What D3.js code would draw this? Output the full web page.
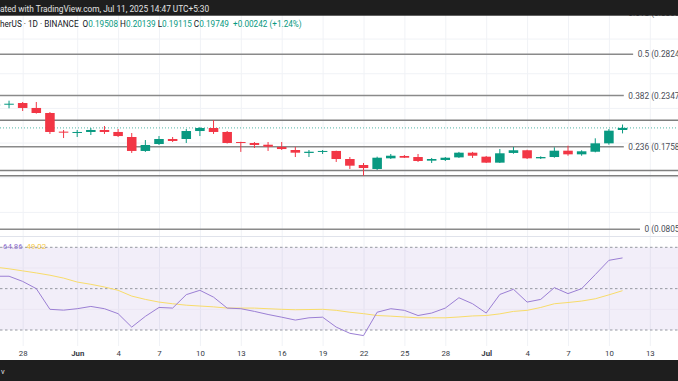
<!DOCTYPE html>
<html>
<head>
<meta charset="utf-8">
<script src="https://cdn.jsdelivr.net/npm/d3@7"></script>
<style>
  body { margin: 0; background: #fff; }
  svg { display: block; font-family: Roboto, "Liberation Sans", sans-serif; }
</style>
</head>
<body>
<div id="chart"></div>
<script>
const dates = [
  '2025-05-26','2025-05-27','2025-05-28','2025-05-29','2025-05-30','2025-05-31',
  '2025-06-01','2025-06-02','2025-06-03','2025-06-04','2025-06-05','2025-06-06','2025-06-07','2025-06-08','2025-06-09','2025-06-10',
  '2025-06-11','2025-06-12','2025-06-13','2025-06-14','2025-06-15','2025-06-16','2025-06-17','2025-06-18','2025-06-19','2025-06-20',
  '2025-06-21','2025-06-22','2025-06-23','2025-06-24','2025-06-25','2025-06-26','2025-06-27','2025-06-28','2025-06-29','2025-06-30',
  '2025-07-01','2025-07-02','2025-07-03','2025-07-04','2025-07-05','2025-07-06','2025-07-07','2025-07-08','2025-07-09','2025-07-10','2025-07-11'
];
const open  = [0.2240,0.2248,0.2262,0.2205,0.2147,0.1932, 0.1920,0.1928,0.1951,0.1928,0.1870,0.1709,0.1789,0.1847,0.1847,0.1939,
  0.1974,0.1928,0.1812,0.1801,0.1781,0.1755,0.1720,0.1686,0.1698,0.1709, 0.1616,0.1547,0.1501,0.1624,0.1651,0.1639,0.1597,0.1605,0.1635,0.1689,
  0.1643,0.1574,0.1686,0.1717,0.1624,0.1639,0.1712,0.1670,0.1700,0.1797,0.19508];
const high  = [0.2262,0.2289,0.2274,0.2274,0.2158,0.1951, 0.1951,0.1974,0.1997,0.1962,0.1916,0.1835,0.1881,0.1870,0.1962,0.1985,
  0.2066,0.1939,0.1815,0.1812,0.1812,0.1812,0.1755,0.1720,0.1720,0.1712, 0.1639,0.1570,0.1643,0.1674,0.1662,0.1674,0.1628,0.1639,0.1698,0.1698,
  0.1651,0.1731,0.1755,0.1723,0.1647,0.1751,0.1770,0.1717,0.1855,0.1962,0.20139];
const low   = [0.2228,0.2201,0.2170,0.2140,0.1905,0.1858, 0.1870,0.1893,0.1905,0.1870,0.1686,0.1698,0.1778,0.1812,0.1801,0.1881,
  0.1905,0.1795,0.1698,0.1743,0.1709,0.1720,0.1639,0.1639,0.1674,0.1582, 0.1501,0.1423,0.1489,0.1616,0.1628,0.1582,0.1570,0.1593,0.1628,0.1628,
  0.1570,0.1570,0.1677,0.1616,0.1616,0.1631,0.1654,0.1654,0.1693,0.1781,0.19115];
const close = [0.2245,0.2254,0.2205,0.2147,0.1928,0.1920, 0.1928,0.1951,0.1928,0.1881,0.1709,0.1778,0.1847,0.1824,0.1939,0.1974,
  0.1928,0.1801,0.1801,0.1778,0.1758,0.1731,0.1689,0.1700,0.1709,0.1616, 0.1539,0.1512,0.1631,0.1654,0.1631,0.1593,0.1616,0.1631,0.1689,0.1654,
  0.1574,0.1682,0.1717,0.1624,0.1639,0.1712,0.1670,0.1705,0.1797,0.1943,0.19749];

const rsi   = [56.0,56.0,53.5,50.0,40.0,39.6, 40.3,41.4,40.3,37.9,31.4,36.6,40.9,40.6,47.1,49.2,
  45.9,40.6,40.3,39.0,37.5,36.2,34.8,35.9,36.2,31.4, 28.4,27.3,38.6,40.3,39.5,37.0,38.2,40.6,45.6,42.7,
  38.2,47.2,49.7,43.5,44.8,50.5,47.6,50.0,56.8,63.7,64.86];
const rsiMa = [60.4,59.6,58.6,57.6,56.5,55.1, 53.2,52.1,50.8,49.2,46.4,44.8,43.5,42.7,42.0,41.6,
  41.2,40.6,40.6,40.6,40.3,40.0,39.8,39.9,40.0,39.5, 38.6,37.9,37.0,36.7,36.3,35.9,35.9,35.9,36.3,36.8,
  37.0,37.8,39.0,39.5,40.9,42.7,43.3,44.0,45.1,47.0,49.02];

const fibLevels = ['0', '0.236', '0.382', '0.5', '0.618'];
const fibPrices = [0.08050, 0.17581, 0.23477, 0.28242, 0.33007];
const extraLines = [0.2062, 0.1483, 0.1423];
const priceGrid = [0.10, 0.14, 0.18, 0.22, 0.26, 0.30, 0.34];
const rsiLevels = [70, 50, 30];
const rsiGrid = [60, 40];

const tickDates = ['2025-05-28','2025-06-01','2025-06-04','2025-06-07','2025-06-10','2025-06-13','2025-06-16','2025-06-19',
  '2025-06-22','2025-06-25','2025-06-28','2025-07-01','2025-07-04','2025-07-07','2025-07-10','2025-07-13'];
const tickLabels = ['28','Jun','4','7','10','13','16','19','22','25','28','Jul','4','7','10','13'];

const lastPrice = 0.19749;
const change = '+0.00242 (+1.24%)';

const width = 678;
const height = 381;
const up = '#089981', down = '#F23645';

const parse = d3.utcParse('%Y-%m-%d');
const data = dates.map((d, i) => ({
  date: parse(d), o: open[i], h: high[i], l: low[i], c: close[i], rsi: rsi[i], ma: rsiMa[i]
}));

const svg = d3.select('#chart')
  .append('svg')
  .attr('width', width)
  .attr('height', height);

const x = d3.scaleUtc()
  .domain([parse('2025-06-01'), parse('2025-07-13')])
  .range([77.2, 649.8]);

const y = d3.scaleLinear()
  .domain([0.0805, 0.28242])
  .range([229.3, 54.3]);

const yr = d3.scaleLinear()
  .domain([30, 70])
  .range([330, 247.3]);

const dayW = x(parse('2025-06-02')) - x(parse('2025-06-01'));
const bodyW = dayW * 0.7;

svg.append('defs').append('clipPath').attr('id', 'pricePane')
  .append('rect').attr('x', 0).attr('y', 0).attr('width', width).attr('height', 236);

// grid
svg.append('g')
  .attr('stroke', '#f0f2f6')
  .selectAll('line')
  .data(tickDates)
  .join('line')
    .attr('x1', d => x(parse(d)) + 0.5).attr('x2', d => x(parse(d)) + 0.5)
    .attr('y1', 15).attr('y2', 346);

svg.append('g')
  .attr('stroke', '#f0f2f6')
  .selectAll('line')
  .data(priceGrid)
  .join('line')
    .attr('x1', 0).attr('x2', width)
    .attr('y1', d => y(d)).attr('y2', d => y(d));

// pane separator
svg.append('line')
  .attr('x1', 0).attr('x2', width)
  .attr('y1', 236.5).attr('y2', 236.5)
  .attr('stroke', '#e0e3eb');

const price = svg.append('g').attr('clip-path', 'url(#pricePane)');

// horizontal lines drawn on chart
price.append('g')
  .attr('stroke', '#7f7f7f')
  .attr('stroke-width', 1.5)
  .selectAll('line')
  .data(extraLines)
  .join('line')
    .attr('x1', 0).attr('x2', width)
    .attr('y1', d => y(d)).attr('y2', d => y(d));

// fib labels, right aligned, and their lines
const fibLabel = (i) => `${fibLevels[i]} (${fibPrices[i].toFixed(5)})`;
const fibG = price.append('g');
const fibText = fibG.selectAll('text')
  .data(fibPrices)
  .join('text')
    .attr('y', d => y(d))
    .attr('dy', '0.35em')
    .attr('font-size', 8.3)
    .attr('fill', '#4a4d57')
    .text((d, i) => fibLabel(i));

// labels for 0.382 start at x=628
const refW = fibText.filter((d, i) => i === 2).node().getComputedTextLength();
const labelRight = 628.3 + refW;
fibText.attr('x', labelRight).attr('text-anchor', 'end');

fibG.selectAll('line')
  .data(fibPrices)
  .join('line')
    .attr('x1', 0)
    .attr('x2', (d, i) => labelRight - fibText.nodes()[i].getComputedTextLength() - 4.5)
    .attr('y1', d => y(d)).attr('y2', d => y(d))
    .attr('stroke', '#8a8a8a')
    .attr('stroke-width', 1.5);

// last price line
price.append('line')
  .attr('x1', 0).attr('x2', width)
  .attr('y1', y(lastPrice)).attr('y2', y(lastPrice))
  .attr('stroke', up)
  .attr('stroke-opacity', 0.7)
  .attr('stroke-dasharray', '1 2');

// candles
const candle = price.append('g')
  .selectAll('g')
  .data(data)
  .join('g')
    .attr('fill', d => d.c >= d.o ? up : down)
    .attr('stroke', d => d.c >= d.o ? up : down);

candle.append('line')
  .attr('x1', d => x(d.date)).attr('x2', d => x(d.date))
  .attr('y1', d => y(d.h)).attr('y2', d => y(d.l))
  .attr('stroke-width', 1);

candle.append('rect')
  .attr('x', d => x(d.date) - bodyW / 2)
  .attr('width', bodyW)
  .attr('y', d => y(Math.max(d.o, d.c)))
  .attr('height', d => Math.max(1, Math.abs(y(d.o) - y(d.c))))
  .attr('stroke', 'none');

// RSI pane
svg.append('rect')
  .attr('x', 0).attr('width', width)
  .attr('y', yr(70)).attr('height', yr(30) - yr(70))
  .attr('fill', '#7e57c2')
  .attr('fill-opacity', 0.1);

svg.append('g')
  .attr('stroke', '#ebe6f3')
  .selectAll('line')
  .data(rsiGrid)
  .join('line')
    .attr('x1', 0).attr('x2', width)
    .attr('y1', d => yr(d)).attr('y2', d => yr(d));

svg.append('g')
  .attr('stroke', '#9598a1')
  .attr('stroke-dasharray', '2.5 2.5')
  .selectAll('line')
  .data(rsiLevels)
  .join('line')
    .attr('x1', 0).attr('x2', width)
    .attr('y1', d => yr(d)).attr('y2', d => yr(d));

svg.append('path')
  .datum(data)
  .attr('fill', 'none')
  .attr('stroke', '#f8dc6a')
  .attr('stroke-width', 1)
  .attr('d', d3.line().x(d => x(d.date)).y(d => yr(d.ma)));

svg.append('path')
  .datum(data)
  .attr('fill', 'none')
  .attr('stroke', '#9b7fd4')
  .attr('stroke-width', 1)
  .attr('d', d3.line().x(d => x(d.date)).y(d => yr(d.rsi)));

svg.append('text')
  .attr('x', 3).attr('y', 246)
  .attr('dy', '0.35em')
  .attr('font-size', 7.8)
  .attr('fill', '#8d6fce')
  .text(rsi[rsi.length - 1].toFixed(2));
svg.append('text')
  .attr('x', 26.5).attr('y', 246)
  .attr('dy', '0.35em')
  .attr('font-size', 7.8)
  .attr('fill', '#f5c842')
  .text(rsiMa[rsiMa.length - 1].toFixed(2));

// x axis
function xAxis(g) {
  g.attr('transform', 'translate(0,347)')
    .call(d3.axisBottom(x)
      .tickValues(tickDates.map(parse))
      .tickFormat((d, i) => tickLabels[i])
      .tickSize(0)
      .tickPadding(3.4))
    .call(g => g.select('.domain').remove())
    .attr('font-size', 7.8)
    .attr('font-family', null);
  g.selectAll('text')
    .attr('fill', '#363a45')
    .attr('font-weight', (d, i) => isNaN(+tickLabels[i]) ? 'bold' : null);
}
svg.append('g').call(xAxis);

// header bands
svg.append('rect').attr('x', 0).attr('y', 0).attr('width', width).attr('height', 15.7).attr('fill', '#1e1e1e');
svg.append('rect').attr('x', 0).attr('y', 360).attr('width', width).attr('height', 21).attr('fill', '#1e1e1e');

// text clipped at the left edge as in the screenshot
function cutLeft(full, prefix, yPos, size, color) {
  const t = svg.append('text').attr('y', yPos).attr('dy', '0.35em').attr('font-size', size).attr('fill', color);
  const probe = svg.append('text').attr('font-size', size).text(prefix);
  const w = probe.node().getComputedTextLength();
  probe.remove();
  t.attr('x', -w);
  return t.text(full);
}

cutLeft('Created with TradingView.com, Jul 11, 2025 14:47 UTC+5:30', 'Cre', 8.8, 8.3, '#e3e3e3');

const info = cutLeft('', 'Dogecoin / Tet', 24.3, 8.2, '#131722');
info.append('tspan').text('Dogecoin / TetherUS · 1D · BINANCE  ');
const ohlc = [['O', open], ['H', high], ['L', low], ['C', close]];
ohlc.forEach(([k, arr]) => {
  info.append('tspan').attr('dx', 2).text(k);
  info.append('tspan').attr('fill', up).text(arr[arr.length - 1].toFixed(5));
});
info.append('tspan').attr('dx', 4).attr('fill', up).text(change);

svg.append('text')
  .attr('x', 1).attr('y', 371)
  .attr('dy', '0.35em')
  .attr('font-size', 7.5)
  .attr('fill', '#e3e3e3')
  .text('v');
</script>
</body>
</html>
